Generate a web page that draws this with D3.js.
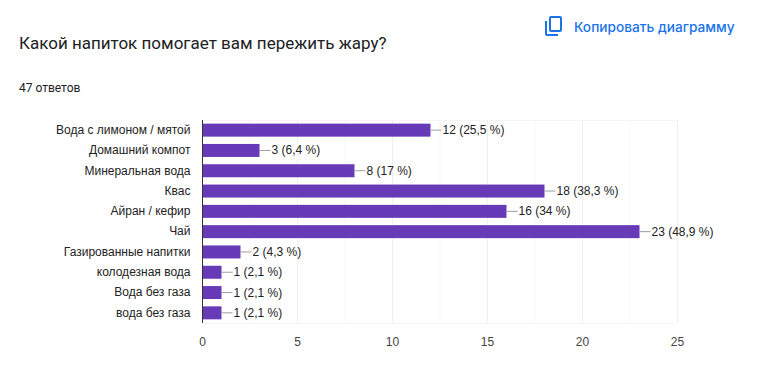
<!DOCTYPE html>
<html>
<head>
<meta charset="utf-8">
<script src="https://cdn.jsdelivr.net/npm/d3@7"></script>
<style>
  html, body { margin: 0; padding: 0; background: #fff; }
  svg { display: block; }
</style>
</head>
<body>
<div id="chart"></div>
<script>
const categories = [
  "Вода с лимоном / мятой",
  "Домашний компот",
  "Минеральная вода",
  "Квас",
  "Айран / кефир",
  "Чай",
  "Газированные напитки",
  "колодезная вода",
  "Вода без газа",
  "вода без газа",
];
const counts = [12, 3, 8, 18, 16, 23, 2, 1, 1, 1];
const percents = ["25,5", "6,4", "17", "38,3", "34", "48,9", "4,3", "2,1", "2,1", "2,1"];
const majorTicks = [0, 5, 10, 15, 20, 25];
const minorTicks = [2.5, 7.5, 12.5, 17.5, 22.5];

const svg = d3
  .select("#chart")
  .append("svg")
  .attr("width", 760)
  .attr("height", 374);

const margin = { top: 120, left: 202.5, right: 82.5, bottom: 51 };
const width = 760 - margin.left - margin.right;
const height = 374 - margin.top - margin.bottom;

const x = d3.scaleLinear().domain([0, 25]).range([0, width]);
const y = d3.scaleBand().domain(categories).range([0, height]).paddingInner(0.36).paddingOuter(0.18);

// Title and answer count
svg
  .append("text")
  .attr("x", 19)
  .attr("y", 49)
  .attr("font-family", "Roboto")
  .attr("font-size", 17)
  .attr("fill", "#202124")
  .text("Какой напиток помогает вам пережить жару?");

svg
  .append("text")
  .attr("x", 19)
  .attr("y", 92)
  .attr("font-family", "Roboto")
  .attr("font-size", 12)
  .attr("fill", "#202124")
  .text("47 ответов");

// Copy button
const copyIcon = svg.append("g").attr("fill", "none").attr("stroke", "#1a73e8").attr("stroke-width", 2);
copyIcon.append("rect").attr("x", 550).attr("y", 17).attr("width", 11).attr("height", 14).attr("rx", 1);
copyIcon.append("path").attr("d", "M546 21V34a1 1 0 0 0 1 1H558");

svg
  .append("text")
  .attr("x", 574)
  .attr("y", 32)
  .attr("font-family", "Inter, Roboto")
  .attr("font-size", 13.7)
  .attr("font-weight", 500)
  .attr("fill", "#1a73e8")
  .text("Копировать диаграмму");

const g = svg.append("g").attr("transform", `translate(${margin.left},${margin.top})`);

// Grid
g.selectAll(".minor")
  .data(minorTicks)
  .enter()
  .append("line")
  .attr("class", "minor")
  .attr("x1", (d) => x(d))
  .attr("x2", (d) => x(d))
  .attr("y1", 0)
  .attr("y2", height)
  .attr("stroke", "#f7f7f7");

g.selectAll(".major")
  .data(majorTicks.slice(1))
  .enter()
  .append("line")
  .attr("class", "major")
  .attr("x1", (d) => x(d))
  .attr("x2", (d) => x(d))
  .attr("y1", 0)
  .attr("y2", height)
  .attr("stroke", "#efefef");

// Faint frame along the top and bottom of the plot
g.selectAll(".frame")
  .data([0.5, height + 0.5])
  .enter()
  .append("line")
  .attr("class", "frame")
  .attr("x1", 0)
  .attr("x2", width)
  .attr("y1", (d) => d)
  .attr("y2", (d) => d)
  .attr("stroke", "#f5f5f5");

// Bars
g.selectAll(".bar")
  .data(counts)
  .enter()
  .append("rect")
  .attr("class", "bar")
  .attr("x", 0)
  .attr("y", (d, i) => y(categories[i]))
  .attr("width", (d) => x(d))
  .attr("height", y.bandwidth())
  .attr("fill", "#673ab7");

// Leader lines and value labels
g.selectAll(".leader")
  .data(counts)
  .enter()
  .append("line")
  .attr("class", "leader")
  .attr("x1", (d) => x(d))
  .attr("x2", (d) => x(d) + 11)
  .attr("y1", (d, i) => y(categories[i]) + y.bandwidth() / 2)
  .attr("y2", (d, i) => y(categories[i]) + y.bandwidth() / 2)
  .attr("stroke", "#9e9e9e");

g.selectAll(".value")
  .data(counts)
  .enter()
  .append("text")
  .attr("class", "value")
  .attr("x", (d) => x(d) + 12)
  .attr("y", (d, i) => y(categories[i]) + y.bandwidth() / 2 + 4)
  .attr("font-family", "Liberation Sans")
  .attr("font-size", 12)
  .attr("fill", "#222")
  .text((d, i) => `${d} (${percents[i]} %)`);

// Axes
const yAxis = g
  .append("g")
  .attr("class", "y-axis")
  .call(d3.axisLeft(y).tickSize(0).tickPadding(12).offset(0));
yAxis.select(".domain").attr("stroke", "#333").attr("stroke-width", 1);
yAxis
  .selectAll("text")
  .attr("font-family", "Liberation Sans")
  .attr("font-size", 12)
  .attr("fill", "#222");

const xAxis = g
  .append("g")
  .attr("transform", `translate(0,${height})`)
  .call(d3.axisBottom(x).tickValues(majorTicks).tickSize(0).tickPadding(14).offset(0));
xAxis.select(".domain").remove();
xAxis
  .selectAll("text")
  .attr("font-family", "Liberation Sans")
  .attr("font-size", 12)
  .attr("fill", "#444");
</script>
</body>
</html>
